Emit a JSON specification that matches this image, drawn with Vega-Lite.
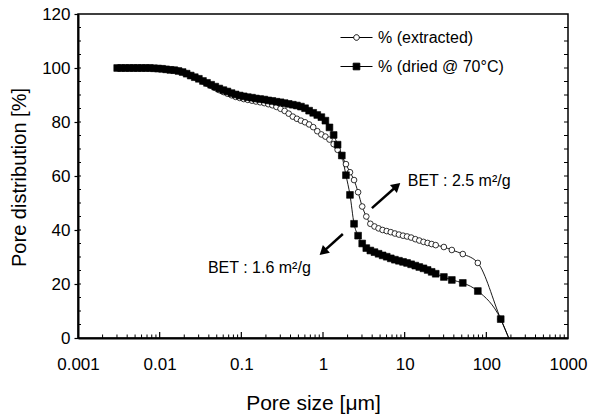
{
  "$schema": "https://vega.github.io/schema/vega-lite/v6.json",
  "width": 490,
  "height": 324,
  "autosize": {"type": "none"},
  "padding": {"left": 78, "top": 14, "right": 21, "bottom": 78},
  "background": "white",
  "config": {
    "font": "Liberation Sans",
    "view": {"stroke": "black", "strokeWidth": 1.5},
    "axis": {"grid": false, "domainColor": "black", "tickColor": "black", "labelColor": "black", "titleColor": "black", "titleFontWeight": "normal", "labelFont": "Liberation Sans", "titleFont": "Liberation Sans"},
    "legend": {"labelFont": "Liberation Sans", "labelColor": "black"}
  },
  "datasets": {
    "curves": [
      {"series": "% (extracted)", "size": 0.00302, "pct": 100},
      {"series": "% (extracted)", "size": 0.00339, "pct": 100},
      {"series": "% (extracted)", "size": 0.0038, "pct": 100},
      {"series": "% (extracted)", "size": 0.00427, "pct": 100},
      {"series": "% (extracted)", "size": 0.00479, "pct": 100},
      {"series": "% (extracted)", "size": 0.00537, "pct": 100},
      {"series": "% (extracted)", "size": 0.00603, "pct": 100},
      {"series": "% (extracted)", "size": 0.00676, "pct": 100},
      {"series": "% (extracted)", "size": 0.00759, "pct": 100},
      {"series": "% (extracted)", "size": 0.00851, "pct": 99.9},
      {"series": "% (extracted)", "size": 0.00955, "pct": 99.8},
      {"series": "% (extracted)", "size": 0.0107, "pct": 99.7},
      {"series": "% (extracted)", "size": 0.012, "pct": 99.5},
      {"series": "% (extracted)", "size": 0.0135, "pct": 99.3},
      {"series": "% (extracted)", "size": 0.0151, "pct": 99.2},
      {"series": "% (extracted)", "size": 0.017, "pct": 98.9},
      {"series": "% (extracted)", "size": 0.0191, "pct": 98.5},
      {"series": "% (extracted)", "size": 0.0214, "pct": 97.9},
      {"series": "% (extracted)", "size": 0.024, "pct": 97.2},
      {"series": "% (extracted)", "size": 0.0269, "pct": 96.6},
      {"series": "% (extracted)", "size": 0.0302, "pct": 96.0},
      {"series": "% (extracted)", "size": 0.0339, "pct": 95.0},
      {"series": "% (extracted)", "size": 0.038, "pct": 94.2},
      {"series": "% (extracted)", "size": 0.0427, "pct": 93.4},
      {"series": "% (extracted)", "size": 0.0479, "pct": 92.6},
      {"series": "% (extracted)", "size": 0.0537, "pct": 91.8},
      {"series": "% (extracted)", "size": 0.0603, "pct": 91.1},
      {"series": "% (extracted)", "size": 0.0676, "pct": 90.5},
      {"series": "% (extracted)", "size": 0.0759, "pct": 89.9},
      {"series": "% (extracted)", "size": 0.0851, "pct": 89.3},
      {"series": "% (extracted)", "size": 0.0955, "pct": 88.9},
      {"series": "% (extracted)", "size": 0.107, "pct": 88.5},
      {"series": "% (extracted)", "size": 0.12, "pct": 88.2},
      {"series": "% (extracted)", "size": 0.135, "pct": 87.9},
      {"series": "% (extracted)", "size": 0.151, "pct": 87.6},
      {"series": "% (extracted)", "size": 0.17, "pct": 87.3},
      {"series": "% (extracted)", "size": 0.191, "pct": 87.0},
      {"series": "% (extracted)", "size": 0.214, "pct": 86.6},
      {"series": "% (extracted)", "size": 0.24, "pct": 86.2},
      {"series": "% (extracted)", "size": 0.269, "pct": 85.6},
      {"series": "% (extracted)", "size": 0.302, "pct": 84.9},
      {"series": "% (extracted)", "size": 0.339, "pct": 84.1},
      {"series": "% (extracted)", "size": 0.38, "pct": 83.1},
      {"series": "% (extracted)", "size": 0.427, "pct": 82.0},
      {"series": "% (extracted)", "size": 0.479, "pct": 81.2},
      {"series": "% (extracted)", "size": 0.537, "pct": 80.5},
      {"series": "% (extracted)", "size": 0.603, "pct": 79.9},
      {"series": "% (extracted)", "size": 0.676, "pct": 79.1},
      {"series": "% (extracted)", "size": 0.759, "pct": 78.1},
      {"series": "% (extracted)", "size": 0.851, "pct": 76.6},
      {"series": "% (extracted)", "size": 0.955, "pct": 75.4},
      {"series": "% (extracted)", "size": 1.07, "pct": 74.6},
      {"series": "% (extracted)", "size": 1.2, "pct": 73.5},
      {"series": "% (extracted)", "size": 1.35, "pct": 71.8},
      {"series": "% (extracted)", "size": 1.51, "pct": 69.7},
      {"series": "% (extracted)", "size": 1.7, "pct": 67.4},
      {"series": "% (extracted)", "size": 1.91, "pct": 64.4},
      {"series": "% (extracted)", "size": 2.14, "pct": 61.4},
      {"series": "% (extracted)", "size": 2.4, "pct": 58.5},
      {"series": "% (extracted)", "size": 2.69, "pct": 54.0},
      {"series": "% (extracted)", "size": 3.02, "pct": 48.7},
      {"series": "% (extracted)", "size": 3.39, "pct": 45.0},
      {"series": "% (extracted)", "size": 3.8, "pct": 42.3},
      {"series": "% (extracted)", "size": 4.27, "pct": 41.3},
      {"series": "% (extracted)", "size": 4.79, "pct": 40.6},
      {"series": "% (extracted)", "size": 5.37, "pct": 40.0},
      {"series": "% (extracted)", "size": 6.03, "pct": 39.6},
      {"series": "% (extracted)", "size": 6.76, "pct": 39.2},
      {"series": "% (extracted)", "size": 7.59, "pct": 38.7},
      {"series": "% (extracted)", "size": 8.51, "pct": 38.3},
      {"series": "% (extracted)", "size": 9.55, "pct": 37.9},
      {"series": "% (extracted)", "size": 10.7, "pct": 37.6},
      {"series": "% (extracted)", "size": 12, "pct": 37.2},
      {"series": "% (extracted)", "size": 13.5, "pct": 36.6},
      {"series": "% (extracted)", "size": 15.1, "pct": 36.1},
      {"series": "% (extracted)", "size": 17, "pct": 35.6},
      {"series": "% (extracted)", "size": 19.1, "pct": 35.2},
      {"series": "% (extracted)", "size": 21.4, "pct": 34.8},
      {"series": "% (extracted)", "size": 24, "pct": 34.4},
      {"series": "% (extracted)", "size": 30.2, "pct": 33.7},
      {"series": "% (extracted)", "size": 37.8, "pct": 32.6},
      {"series": "% (extracted)", "size": 51.5, "pct": 31.1},
      {"series": "% (extracted)", "size": 78.7, "pct": 27.8},
      {"series": "% (extracted)", "size": 150, "pct": 7.0},
      {"series": "% (extracted)", "size": 188, "pct": 0},
      {"series": "% (dried @ 70°C)", "size": 0.00302, "pct": 100},
      {"series": "% (dried @ 70°C)", "size": 0.00339, "pct": 100},
      {"series": "% (dried @ 70°C)", "size": 0.0038, "pct": 100},
      {"series": "% (dried @ 70°C)", "size": 0.00427, "pct": 100},
      {"series": "% (dried @ 70°C)", "size": 0.00479, "pct": 100},
      {"series": "% (dried @ 70°C)", "size": 0.00537, "pct": 100},
      {"series": "% (dried @ 70°C)", "size": 0.00603, "pct": 100},
      {"series": "% (dried @ 70°C)", "size": 0.00676, "pct": 100},
      {"series": "% (dried @ 70°C)", "size": 0.00759, "pct": 100},
      {"series": "% (dried @ 70°C)", "size": 0.00851, "pct": 99.9},
      {"series": "% (dried @ 70°C)", "size": 0.00955, "pct": 99.8},
      {"series": "% (dried @ 70°C)", "size": 0.0107, "pct": 99.7},
      {"series": "% (dried @ 70°C)", "size": 0.012, "pct": 99.5},
      {"series": "% (dried @ 70°C)", "size": 0.0135, "pct": 99.3},
      {"series": "% (dried @ 70°C)", "size": 0.0151, "pct": 99.2},
      {"series": "% (dried @ 70°C)", "size": 0.017, "pct": 98.9},
      {"series": "% (dried @ 70°C)", "size": 0.0191, "pct": 98.5},
      {"series": "% (dried @ 70°C)", "size": 0.0214, "pct": 97.9},
      {"series": "% (dried @ 70°C)", "size": 0.024, "pct": 97.2},
      {"series": "% (dried @ 70°C)", "size": 0.0269, "pct": 96.6},
      {"series": "% (dried @ 70°C)", "size": 0.0302, "pct": 96.0},
      {"series": "% (dried @ 70°C)", "size": 0.0339, "pct": 95.2},
      {"series": "% (dried @ 70°C)", "size": 0.038, "pct": 94.5},
      {"series": "% (dried @ 70°C)", "size": 0.0427, "pct": 93.8},
      {"series": "% (dried @ 70°C)", "size": 0.0479, "pct": 93.1},
      {"series": "% (dried @ 70°C)", "size": 0.0537, "pct": 92.4},
      {"series": "% (dried @ 70°C)", "size": 0.0603, "pct": 91.8},
      {"series": "% (dried @ 70°C)", "size": 0.0676, "pct": 91.3},
      {"series": "% (dried @ 70°C)", "size": 0.0759, "pct": 90.7},
      {"series": "% (dried @ 70°C)", "size": 0.0851, "pct": 90.2},
      {"series": "% (dried @ 70°C)", "size": 0.0955, "pct": 89.8},
      {"series": "% (dried @ 70°C)", "size": 0.107, "pct": 89.5},
      {"series": "% (dried @ 70°C)", "size": 0.12, "pct": 89.2},
      {"series": "% (dried @ 70°C)", "size": 0.135, "pct": 89.0},
      {"series": "% (dried @ 70°C)", "size": 0.151, "pct": 88.7},
      {"series": "% (dried @ 70°C)", "size": 0.17, "pct": 88.5},
      {"series": "% (dried @ 70°C)", "size": 0.191, "pct": 88.3},
      {"series": "% (dried @ 70°C)", "size": 0.214, "pct": 88.0},
      {"series": "% (dried @ 70°C)", "size": 0.24, "pct": 87.8},
      {"series": "% (dried @ 70°C)", "size": 0.269, "pct": 87.5},
      {"series": "% (dried @ 70°C)", "size": 0.302, "pct": 87.3},
      {"series": "% (dried @ 70°C)", "size": 0.339, "pct": 87.0},
      {"series": "% (dried @ 70°C)", "size": 0.38, "pct": 86.7},
      {"series": "% (dried @ 70°C)", "size": 0.427, "pct": 86.4},
      {"series": "% (dried @ 70°C)", "size": 0.479, "pct": 86.1},
      {"series": "% (dried @ 70°C)", "size": 0.537, "pct": 85.7},
      {"series": "% (dried @ 70°C)", "size": 0.603, "pct": 85.1},
      {"series": "% (dried @ 70°C)", "size": 0.676, "pct": 84.2},
      {"series": "% (dried @ 70°C)", "size": 0.759, "pct": 83.4},
      {"series": "% (dried @ 70°C)", "size": 0.851, "pct": 82.6},
      {"series": "% (dried @ 70°C)", "size": 0.955, "pct": 81.8},
      {"series": "% (dried @ 70°C)", "size": 1.07, "pct": 80.5},
      {"series": "% (dried @ 70°C)", "size": 1.2, "pct": 78.0},
      {"series": "% (dried @ 70°C)", "size": 1.35, "pct": 75.2},
      {"series": "% (dried @ 70°C)", "size": 1.51, "pct": 71.6},
      {"series": "% (dried @ 70°C)", "size": 1.7, "pct": 67.6},
      {"series": "% (dried @ 70°C)", "size": 1.91, "pct": 60.3},
      {"series": "% (dried @ 70°C)", "size": 2.14, "pct": 53.0},
      {"series": "% (dried @ 70°C)", "size": 2.4, "pct": 42.3},
      {"series": "% (dried @ 70°C)", "size": 2.69, "pct": 37.9},
      {"series": "% (dried @ 70°C)", "size": 3.02, "pct": 35.0},
      {"series": "% (dried @ 70°C)", "size": 3.39, "pct": 33.3},
      {"series": "% (dried @ 70°C)", "size": 3.8, "pct": 32.4},
      {"series": "% (dried @ 70°C)", "size": 4.27, "pct": 31.8},
      {"series": "% (dried @ 70°C)", "size": 4.79, "pct": 31.2},
      {"series": "% (dried @ 70°C)", "size": 5.37, "pct": 30.6},
      {"series": "% (dried @ 70°C)", "size": 6.03, "pct": 30.1},
      {"series": "% (dried @ 70°C)", "size": 6.76, "pct": 29.5},
      {"series": "% (dried @ 70°C)", "size": 7.59, "pct": 29.0},
      {"series": "% (dried @ 70°C)", "size": 8.51, "pct": 28.6},
      {"series": "% (dried @ 70°C)", "size": 9.55, "pct": 28.2},
      {"series": "% (dried @ 70°C)", "size": 10.7, "pct": 27.8},
      {"series": "% (dried @ 70°C)", "size": 12, "pct": 27.3},
      {"series": "% (dried @ 70°C)", "size": 13.5, "pct": 26.8},
      {"series": "% (dried @ 70°C)", "size": 15.1, "pct": 26.3},
      {"series": "% (dried @ 70°C)", "size": 17, "pct": 25.8},
      {"series": "% (dried @ 70°C)", "size": 19.1, "pct": 25.2},
      {"series": "% (dried @ 70°C)", "size": 21.4, "pct": 24.5},
      {"series": "% (dried @ 70°C)", "size": 24, "pct": 23.8},
      {"series": "% (dried @ 70°C)", "size": 30.2, "pct": 22.6},
      {"series": "% (dried @ 70°C)", "size": 37.8, "pct": 21.5},
      {"series": "% (dried @ 70°C)", "size": 51.5, "pct": 20.4},
      {"series": "% (dried @ 70°C)", "size": 78.7, "pct": 17.4},
      {"series": "% (dried @ 70°C)", "size": 150, "pct": 7.0},
      {"series": "% (dried @ 70°C)", "size": 188, "pct": 0}
    ],
    "notes": [
      {"label": "BET : 2.5 m²/g", "size": 10.9, "pct": 58.1},
      {"label": "BET : 1.6 m²/g", "size": 0.039, "pct": 25.9}
    ],
    "arrows": [
      {"id": "up", "size": 3.97, "pct": 48.1, "size2": 8.02, "pct2": 56.3},
      {"id": "down", "size": 1.75, "pct": 38.5, "size2": 1.0, "pct2": 31.9}
    ],
    "xticks": [
      {"size": 0.002, "kind": "minor", "pct": 0}, {"size": 0.003, "kind": "minor", "pct": 0}, {"size": 0.004, "kind": "minor", "pct": 0}, {"size": 0.005, "kind": "minor", "pct": 0}, {"size": 0.006, "kind": "minor", "pct": 0}, {"size": 0.007, "kind": "minor", "pct": 0}, {"size": 0.008, "kind": "minor", "pct": 0}, {"size": 0.009, "kind": "minor", "pct": 0},
      {"size": 0.01, "kind": "major", "pct": 0},
      {"size": 0.02, "kind": "minor", "pct": 0}, {"size": 0.03, "kind": "minor", "pct": 0}, {"size": 0.04, "kind": "minor", "pct": 0}, {"size": 0.05, "kind": "minor", "pct": 0}, {"size": 0.06, "kind": "minor", "pct": 0}, {"size": 0.07, "kind": "minor", "pct": 0}, {"size": 0.08, "kind": "minor", "pct": 0}, {"size": 0.09, "kind": "minor", "pct": 0},
      {"size": 0.1, "kind": "major", "pct": 0},
      {"size": 0.2, "kind": "minor", "pct": 0}, {"size": 0.3, "kind": "minor", "pct": 0}, {"size": 0.4, "kind": "minor", "pct": 0}, {"size": 0.5, "kind": "minor", "pct": 0}, {"size": 0.6, "kind": "minor", "pct": 0}, {"size": 0.7, "kind": "minor", "pct": 0}, {"size": 0.8, "kind": "minor", "pct": 0}, {"size": 0.9, "kind": "minor", "pct": 0},
      {"size": 1, "kind": "major", "pct": 0},
      {"size": 2, "kind": "minor", "pct": 0}, {"size": 3, "kind": "minor", "pct": 0}, {"size": 4, "kind": "minor", "pct": 0}, {"size": 5, "kind": "minor", "pct": 0}, {"size": 6, "kind": "minor", "pct": 0}, {"size": 7, "kind": "minor", "pct": 0}, {"size": 8, "kind": "minor", "pct": 0}, {"size": 9, "kind": "minor", "pct": 0},
      {"size": 10, "kind": "major", "pct": 0},
      {"size": 20, "kind": "minor", "pct": 0}, {"size": 30, "kind": "minor", "pct": 0}, {"size": 40, "kind": "minor", "pct": 0}, {"size": 50, "kind": "minor", "pct": 0}, {"size": 60, "kind": "minor", "pct": 0}, {"size": 70, "kind": "minor", "pct": 0}, {"size": 80, "kind": "minor", "pct": 0}, {"size": 90, "kind": "minor", "pct": 0},
      {"size": 100, "kind": "major", "pct": 0},
      {"size": 200, "kind": "minor", "pct": 0}, {"size": 300, "kind": "minor", "pct": 0}, {"size": 400, "kind": "minor", "pct": 0}, {"size": 500, "kind": "minor", "pct": 0}, {"size": 600, "kind": "minor", "pct": 0}, {"size": 700, "kind": "minor", "pct": 0}, {"size": 800, "kind": "minor", "pct": 0}, {"size": 900, "kind": "minor", "pct": 0}
    ],
    "yticks": [
      {"pct": 5, "lo": 0.001, "hi": 1000}, {"pct": 10, "lo": 0.001, "hi": 1000}, {"pct": 15, "lo": 0.001, "hi": 1000}, {"pct": 20, "lo": 0.001, "hi": 1000},
      {"pct": 25, "lo": 0.001, "hi": 1000}, {"pct": 30, "lo": 0.001, "hi": 1000}, {"pct": 35, "lo": 0.001, "hi": 1000}, {"pct": 40, "lo": 0.001, "hi": 1000},
      {"pct": 45, "lo": 0.001, "hi": 1000}, {"pct": 50, "lo": 0.001, "hi": 1000}, {"pct": 55, "lo": 0.001, "hi": 1000}, {"pct": 60, "lo": 0.001, "hi": 1000},
      {"pct": 65, "lo": 0.001, "hi": 1000}, {"pct": 70, "lo": 0.001, "hi": 1000}, {"pct": 75, "lo": 0.001, "hi": 1000}, {"pct": 80, "lo": 0.001, "hi": 1000},
      {"pct": 85, "lo": 0.001, "hi": 1000}, {"pct": 90, "lo": 0.001, "hi": 1000}, {"pct": 95, "lo": 0.001, "hi": 1000}, {"pct": 100, "lo": 0.001, "hi": 1000},
      {"pct": 105, "lo": 0.001, "hi": 1000}, {"pct": 110, "lo": 0.001, "hi": 1000}, {"pct": 115, "lo": 0.001, "hi": 1000}
    ]
  },
  "resolve": {"axis": {"x": "independent", "y": "independent"}},
  "layer": [
    {
      "data": {"name": "curves"},
      "mark": {"type": "line", "color": "black", "strokeWidth": 0.9, "interpolate": "monotone"},
      "encoding": {
        "x": {
          "field": "size", "type": "quantitative",
          "scale": {"type": "log", "domain": [0.001, 1000]},
          "axis": {"orient": "bottom", "values": [0.001, 0.01, 0.1, 1, 10, 100, 1000], "format": "~g",
            "ticks": false, "labelFontSize": 17, "labelPadding": 18, "domainWidth": 2, "labelFlush": false, "labelOverlap": false,
            "title": "Pore size [μm]", "titleFontSize": 21, "titleX": 235, "titleY": 65, "titleAlign": "center", "titleBaseline": "middle"}
        },
        "y": {
          "field": "pct", "type": "quantitative",
          "scale": {"domain": [0, 120]},
          "axis": {"orient": "left", "values": [0, 20, 40, 60, 80, 100, 120],
            "tickSize": 4, "tickWidth": 1.2, "labelFontSize": 17, "labelPadding": 4, "domainWidth": 2, "labelFlush": false, "labelOverlap": false,
            "title": "Pore distribution [%]", "titleFontSize": 20, "titleAngle": -90, "titleX": -59, "titleY": 163, "titleAlign": "center", "titleBaseline": "middle"}
        },
        "detail": {"field": "series"}
      }
    },
    {
      "data": {"name": "xticks"},
      "transform": [{"filter": "datum.kind === 'minor'"}],
      "mark": {"type": "tick", "orient": "vertical", "color": "black", "size": 3.5, "thickness": 1, "yOffset": -1.75, "opacity": 1},
      "encoding": {
        "x": {"field": "size", "type": "quantitative", "axis": null},
        "y": {"field": "pct", "type": "quantitative", "axis": null}
      }
    },
    {
      "data": {"name": "xticks"},
      "transform": [{"filter": "datum.kind === 'major'"}],
      "mark": {"type": "tick", "orient": "vertical", "color": "black", "size": 6, "thickness": 1.2, "yOffset": -3, "opacity": 1},
      "encoding": {
        "x": {"field": "size", "type": "quantitative", "axis": null},
        "y": {"field": "pct", "type": "quantitative", "axis": null}
      }
    },
    {
      "data": {"name": "yticks"},
      "mark": {"type": "tick", "orient": "horizontal", "color": "black", "size": 4, "thickness": 1, "xOffset": -2, "opacity": 1},
      "encoding": {
        "y": {"field": "pct", "type": "quantitative", "axis": null},
        "x": {"field": "hi", "type": "quantitative", "axis": null}
      }
    },
    {
      "data": {"name": "yticks"},
      "mark": {"type": "tick", "orient": "horizontal", "color": "black", "size": 3, "thickness": 1, "xOffset": 1.5, "opacity": 1},
      "encoding": {
        "y": {"field": "pct", "type": "quantitative", "axis": null},
        "x": {"field": "lo", "type": "quantitative", "axis": null}
      }
    },
    {
      "data": {"name": "curves"},
      "transform": [{"filter": "datum.pct > 0 && datum.series === '% (extracted)'"}],
      "mark": {"type": "point", "shape": "circle", "filled": true, "fill": "white", "stroke": "black", "strokeWidth": 0.8, "opacity": 1, "size": 32},
      "encoding": {
        "x": {"field": "size", "type": "quantitative", "axis": null},
        "y": {"field": "pct", "type": "quantitative", "axis": null}
      }
    },
    {
      "data": {"name": "curves"},
      "transform": [{"filter": "datum.pct > 0 && datum.series !== '% (extracted)'"}],
      "mark": {"type": "point", "shape": "square", "filled": true, "fill": "black", "stroke": "black", "strokeWidth": 0.6, "opacity": 1, "size": 46},
      "encoding": {
        "x": {"field": "size", "type": "quantitative", "axis": null},
        "y": {"field": "pct", "type": "quantitative", "axis": null}
      }
    },
    {
      "data": {"name": "curves"},
      "transform": [{"filter": "datum.pct < 0"}],
      "mark": {"type": "point", "filled": true, "strokeWidth": 1, "opacity": 1},
      "encoding": {
        "x": {"field": "size", "type": "quantitative", "axis": null},
        "y": {"field": "pct", "type": "quantitative", "axis": null},
        "shape": {
          "field": "series", "type": "nominal",
          "scale": {"domain": ["% (extracted)", "% (dried @ 70°C)"], "range": ["M-1.6,0H-0.28M0.28,0H1.6M0.28,0A0.28,0.28,0,1,1,-0.28,0A0.28,0.28,0,1,1,0.28,0Z", "M-1.6,0H1.6M-0.33,-0.33H0.33V0.33H-0.33Z"]},
          "legend": {"orient": "none", "legendX": 268, "legendY": 13, "title": null, "padding": 0, "symbolSize": 400, "symbolStrokeWidth": 1, "symbolOpacity": 1, "labelFontSize": 16, "labelOffset": 11, "rowPadding": 10, "labelLimit": 300}
        },
        "fill": {
          "field": "series", "type": "nominal",
          "scale": {"domain": ["% (extracted)", "% (dried @ 70°C)"], "range": ["white", "black"]},
          "legend": {"orient": "none", "legendX": 268, "legendY": 13, "title": null, "padding": 0, "symbolSize": 400, "symbolStrokeWidth": 1, "symbolOpacity": 1, "labelFontSize": 16, "labelOffset": 11, "rowPadding": 10, "labelLimit": 300}
        },
        "stroke": {
          "field": "series", "type": "nominal",
          "scale": {"domain": ["% (extracted)", "% (dried @ 70°C)"], "range": ["black", "black"]},
          "legend": {"orient": "none", "legendX": 268, "legendY": 13, "title": null, "padding": 0, "symbolSize": 400, "symbolStrokeWidth": 1, "symbolOpacity": 1, "labelFontSize": 16, "labelOffset": 11, "rowPadding": 10, "labelLimit": 300}
        }
      }
    },
    {
      "data": {"name": "notes"},
      "mark": {"type": "text", "align": "left", "baseline": "middle", "fontSize": 16, "color": "black", "font": "Liberation Sans"},
      "encoding": {
        "x": {"field": "size", "type": "quantitative", "axis": null},
        "y": {"field": "pct", "type": "quantitative", "axis": null},
        "text": {"field": "label"}
      }
    },
    {
      "data": {"name": "arrows"},
      "mark": {"type": "rule", "color": "black", "strokeWidth": 2.5},
      "encoding": {
        "x": {"field": "size", "type": "quantitative", "axis": null},
        "y": {"field": "pct", "type": "quantitative", "axis": null},
        "x2": {"field": "size2"},
        "y2": {"field": "pct2"}
      }
    },
    {
      "data": {"name": "arrows"},
      "transform": [{"filter": "datum.id === 'up'"}],
      "mark": {"type": "point", "shape": "triangle-up", "filled": true, "color": "black", "opacity": 1, "size": 110, "angle": 48.7},
      "encoding": {
        "x": {"field": "size2", "type": "quantitative", "axis": null},
        "y": {"field": "pct2", "type": "quantitative", "axis": null}
      }
    },
    {
      "data": {"name": "arrows"},
      "transform": [{"filter": "datum.id === 'down'"}],
      "mark": {"type": "point", "shape": "triangle-up", "filled": true, "color": "black", "opacity": 1, "size": 110, "angle": 228},
      "encoding": {
        "x": {"field": "size2", "type": "quantitative", "axis": null},
        "y": {"field": "pct2", "type": "quantitative", "axis": null}
      }
    }
  ]
}
